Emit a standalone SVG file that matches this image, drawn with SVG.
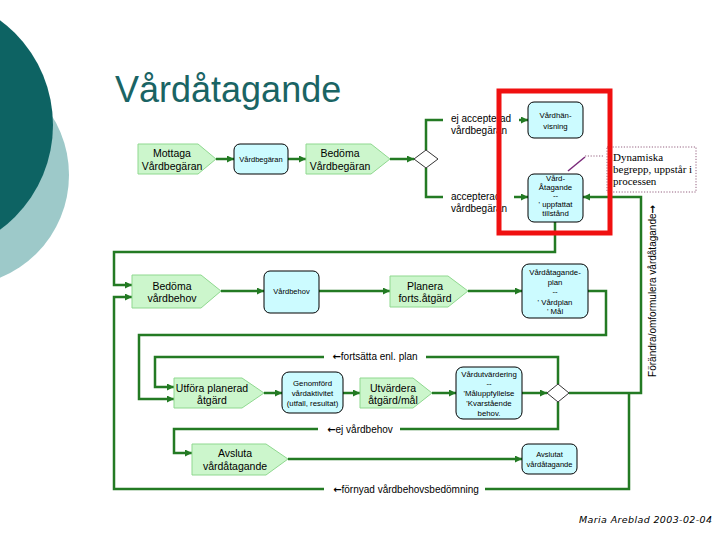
<svg xmlns="http://www.w3.org/2000/svg" width="720" height="540" viewBox="0 0 720 540">
<style>
text{font-family:"Liberation Sans",Arial,sans-serif;fill:#000}
.pent{fill:#CCF6CC;stroke:#8FD88F;stroke-width:1}
.box{fill:#CCFBFF;stroke:#000;stroke-width:1}
.dia{fill:#fff;stroke:#000;stroke-width:0.8}
.pt{font-size:10.5px;text-anchor:middle}
.bt{font-size:7.8px;text-anchor:middle}
.lbl{font-size:10px}
.lc{font-size:10px;text-anchor:middle}
.ar{font-family:"DejaVu Sans",sans-serif;font-weight:bold;font-size:10px}
.con{fill:none;stroke:#237A23;stroke-width:2.5}
.arr{fill:none;stroke:#237A23;stroke-width:2.5;marker-end:url(#ah)}
</style>
<defs>
<marker id="ah" markerUnits="userSpaceOnUse" markerWidth="8" markerHeight="8" refX="7" refY="3.5" orient="auto">
<path d="M0,0 L7,3.5 L0,7 z" fill="#237A23"/>
</marker>
</defs>
<rect width="720" height="540" fill="#fff"/>
<g id="decor">
<circle cx="-42" cy="175" r="111" fill="#9DC9C9"/>
<circle cx="-77" cy="125" r="130" fill="#0D6363"/>
</g>
<text x="115" y="102" style="font-size:36px;fill:#1A6464">Vårdåtagande</text>
<g id="connectors">
<path class="arr" d="M216,159 H234"/>
<path class="arr" d="M288,159 H306"/>
<path class="arr" d="M390,159 H414"/>
<path class="con" d="M426,150 V120 H443"/>
<path class="arr" d="M519,120 H528"/>
<path class="con" d="M426,168 V197 H443"/>
<path class="arr" d="M514,197 H528"/>
<path class="arr" d="M555,222 V252 H114 V285 H132"/>
<path class="arr" d="M221,291 H264"/>
<path class="arr" d="M319,291 H390"/>
<path class="arr" d="M468,291 H522"/>
<path class="arr" d="M588,291 H606 V335 H139 V399 H174"/>
<path class="con" d="M558,384 V357 H426"/>
<path class="arr" d="M324,357 H155 V387 H174"/>
<path class="arr" d="M264,393 H282"/>
<path class="arr" d="M343,393 H360"/>
<path class="arr" d="M432,393 H456"/>
<path class="arr" d="M522,393 H547"/>
<path class="con" d="M558,402 V429 H400"/>
<path class="arr" d="M318,429 H174 V453 H192"/>
<path class="arr" d="M288,459 H522"/>
<path class="arr" d="M569,393 H641 V197 H583"/>
<path class="con" d="M629,393 V489 H485"/>
<path class="arr" d="M324,489 H114 V297 H132"/>
</g>
<g id="mottaga">
<polygon class="pent" points="138,144 198,144 216,159 198,174 138,174"/>
<text class="pt" x="172" y="157">Mottaga</text>
<text class="pt" x="172" y="170">Vårdbegäran</text>
</g>
<g id="vardbegaran">
<rect class="box" x="234" y="144" width="54" height="30" rx="6"/>
<text class="bt" x="261" y="162" style="font-size:7.5px">Vårdbegäran</text>
</g>
<g id="bedoma-vardbegaran">
<polygon class="pent" points="306,144 371,144 390,159 371,174 306,174"/>
<text class="pt" x="340" y="157">Bedöma</text>
<text class="pt" x="340" y="170">Vårdbegäran</text>
</g>
<g id="diamond1">
<polygon class="dia" points="414,159 426,150 438,159 426,168"/>
</g>
<g id="lbl-ej-accepterad">
<text class="lbl" x="451" y="122">ej accepterad</text>
<text class="lbl" x="451" y="134">vårdbegäran</text>
</g>
<g id="lbl-accepterad">
<text class="lbl" x="451" y="200">accepterad</text>
<text class="lbl" x="451" y="212">vårdbegäran</text>
</g>
<g id="vardhanvisning">
<rect class="box" x="528" y="102" width="55" height="36" rx="6"/>
<text class="bt" x="555.5" y="118">Vårdhän-</text>
<text class="bt" x="555.5" y="129">visning</text>
</g>
<g id="vardatagande">
<rect class="box" x="528" y="174" width="55" height="48" rx="6"/>
<text class="bt" x="555.5" y="181">Vård-</text>
<text class="bt" x="555.5" y="190">Åtagande</text>
<text class="bt" x="555.5" y="198">--</text>
<text class="bt" x="555.5" y="207">' uppfattat</text>
<text class="bt" x="555.5" y="216">tillstånd</text>
</g>
<g id="callout">
<rect x="607" y="147" width="89" height="45" fill="#fff" stroke="#7A3A60" stroke-width="0.8" stroke-dasharray="1.2,1.6"/>
<path d="M603,156 H585" fill="none" stroke="#7A3A60" stroke-width="0.8" stroke-dasharray="1.2,1.6"/>
<path d="M585,157 L568,171" fill="none" stroke="#7A2A7A" stroke-width="1.5"/>
<text x="613" y="161" style="font-family:'Liberation Serif','Times New Roman',serif;font-size:11px">Dynamiska</text>
<text x="613" y="173" style="font-family:'Liberation Serif','Times New Roman',serif;font-size:11px">begrepp, uppstår i</text>
<text x="613" y="185" style="font-family:'Liberation Serif','Times New Roman',serif;font-size:11px">processen</text>
</g>
<g id="bedoma-vardbehov">
<polygon class="pent" points="132,275 201,275 221,291 201,308 132,308"/>
<text class="pt" x="172" y="290">Bedöma</text>
<text class="pt" x="172" y="302">vårdbehov</text>
</g>
<g id="vardbehov">
<rect class="box" x="264" y="271" width="55" height="42" rx="6"/>
<text class="bt" x="291.5" y="294" style="font-size:7.5px">Vårdbehov</text>
</g>
<g id="planera">
<polygon class="pent" points="390,276 448,276 468,291 448,307 390,307"/>
<text class="pt" x="425" y="290">Planera</text>
<text class="pt" x="425" y="302">forts.åtgärd</text>
</g>
<g id="vardatagandeplan">
<rect class="box" x="522" y="264" width="66" height="54" rx="7"/>
<text class="bt" x="555" y="275">Vårdåtagande-</text>
<text class="bt" x="555" y="285">plan</text>
<text class="bt" x="555" y="294">--</text>
<text class="bt" x="555" y="305">' Vårdplan</text>
<text class="bt" x="555" y="314">' Mål</text>
</g>
<g id="lbl-fortsatta">
<text class="lc" x="375" y="360"><tspan class="ar">←</tspan>fortsätta enl. plan</text>
</g>
<g id="utfora">
<polygon class="pent" points="174,378 242,378 264,393 242,408 174,408"/>
<text class="pt" x="212" y="392">Utföra planerad</text>
<text class="pt" x="212" y="404">åtgärd</text>
</g>
<g id="genomford">
<rect class="box" x="282" y="372" width="61" height="41" rx="7"/>
<text class="bt" x="312.5" y="386">Genomförd</text>
<text class="bt" x="312.5" y="396">vårdaktivitet</text>
<text class="bt" x="312.5" y="406">(utfall, resultat)</text>
</g>
<g id="utvardera">
<polygon class="pent" points="360,378 413,378 432,393 413,408 360,408"/>
<text class="pt" x="393" y="392">Utvärdera</text>
<text class="pt" x="393" y="404">åtgärd/mål</text>
</g>
<g id="vardutvardering">
<rect class="box" x="456" y="367" width="66" height="52" rx="7"/>
<text class="bt" x="489" y="377">Vårdutvärdering</text>
<text class="bt" x="489" y="386">--</text>
<text class="bt" x="489" y="396">'Måluppfyllelse</text>
<text class="bt" x="489" y="406">'Kvarstående</text>
<text class="bt" x="489" y="416">behov.</text>
</g>
<g id="diamond2">
<polygon class="dia" points="547,393 558,384 569,393 558,402"/>
</g>
<g id="lbl-ej-vardbehov">
<text class="lc" x="360" y="433"><tspan class="ar">←</tspan>ej vårdbehov</text>
</g>
<g id="avsluta">
<polygon class="pent" points="192,444 266,444 288,459 266,475 192,475"/>
<text class="pt" x="235" y="457">Avsluta</text>
<text class="pt" x="235" y="470">vårdåtagande</text>
</g>
<g id="avslutat">
<rect class="box" x="522" y="444" width="55" height="30" rx="6"/>
<text class="bt" x="549.5" y="457" style="font-size:7.5px">Avslutat</text>
<text class="bt" x="549.5" y="467" style="font-size:7.5px">vårdåtagande</text>
</g>
<g id="lbl-fornyad">
<text class="lc" x="406" y="493"><tspan class="ar">←</tspan>förnyad vårdbehovsbedömning</text>
</g>
<g id="lbl-forandra">
<text class="lc" transform="translate(656,291) rotate(-90)" x="0" y="0">Förändra/omformulera vårdåtagande<tspan class="ar">→</tspan></text>
</g>
<g id="highlight">
<rect x="499" y="91" width="111" height="142" fill="none" stroke="#F01010" stroke-width="5"/>
</g>
<text x="579" y="523" textLength="133" style="font-family:'DejaVu Sans',sans-serif;font-style:italic;font-size:9.5px">Maria Areblad 2003-02-04</text>
</svg>
